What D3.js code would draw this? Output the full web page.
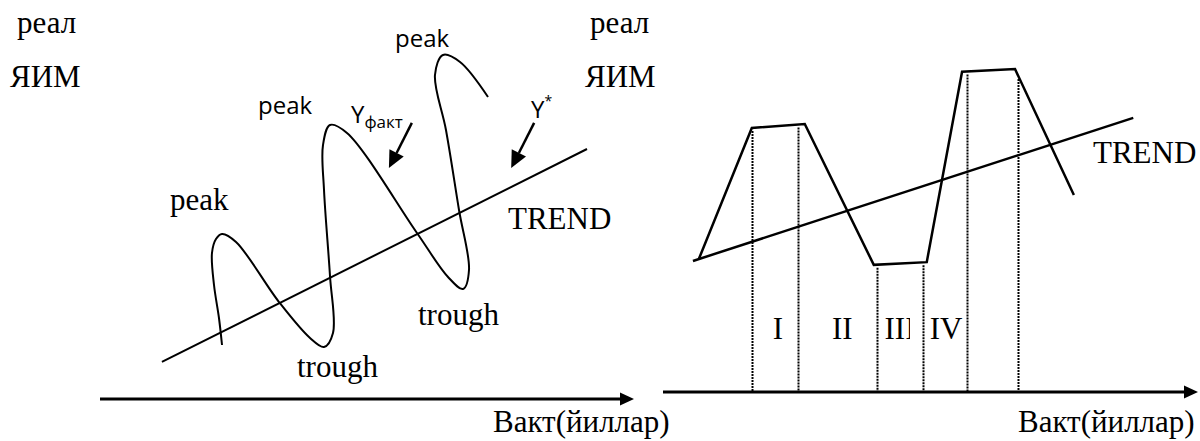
<!DOCTYPE html>
<html>
<head>
<meta charset="utf-8">
<script src="https://cdn.jsdelivr.net/npm/d3@7"></script>
<style>
  body { margin: 0; background: #fff; }
  .serif { font-family: "Liberation Serif", "Times New Roman", serif; font-size: 31px; fill: #000; }
  .sans { font-family: "Open Sans", "Noto Sans", sans-serif; fill: #000; }
</style>
</head>
<body>
<div id="chart"></div>
<script>
  // left panel: business cycle curve (time units, GDP units)
  var cycleT = [2.285, 2.228, 2.135, 2.097, 2.172, 2.285, 2.547, 3.352, 3.933, 4.195, 4.363, 4.307, 4.195, 4.176, 4.307, 4.625, 5.936, 6.517, 6.798, 6.910, 6.723, 6.479, 6.273, 6.423, 6.742, 7.266];
  var cycleY = [1.385, 2.077, 2.923, 3.744, 4.103, 4.231, 4.026, 2.487, 1.564, 1.333, 1.692, 3.154, 5.359, 6.513, 7.026, 6.821, 4.256, 3.128, 2.821, 3.308, 4.846, 6.897, 8.308, 8.821, 8.641, 7.744];
  var trendLeftT = [1.16, 9.12];
  var trendLeftY = [0.95, 6.41];

  // arrows pointing at the actual curve and the trend
  var arrowLabels = ["Yфакт", "Y*"];
  var arrowFromT = [5.84, 8.13], arrowFromY = [7.08, 7.08];
  var arrowToT = [5.41, 7.70], arrowToY = [5.92, 5.92];

  // right panel: phases of the cycle
  var phaseT = [0.67, 1.66, 2.65, 3.94, 4.93, 5.59, 6.58, 7.68];
  var phaseY = [3.41, 6.77, 6.87, 3.26, 3.33, 8.21, 8.28, 5.05];
  var trendRightT = [0.56, 8.79];
  var trendRightY = [3.36, 7.03];
  var dividerT = [1.66, 2.52, 4.00, 4.86, 5.68, 6.64];
  var phaseLabels = ["I", "II", "III", "IV"];
  var phaseLabelT = [2.15, 3.35, 4.43, 5.29];

  var width = 1200, height = 441;

  var svg = d3.select("#chart")
      .append("svg")
      .attr("width", width)
      .attr("height", height);

  var defs = svg.append("defs");
  defs.append("clipPath").attr("id", "clip3")
      .append("rect").attr("x", 870).attr("y", 300).attr("width", 40).attr("height", 60);

  // scales
  var xL = d3.scaleLinear().domain([0, 10]).range([100, 634]);
  var yL = d3.scaleLinear().domain([0, 10]).range([399, 9]);
  var xR = d3.scaleLinear().domain([0, 10]).range([663, 1198]);
  var yR = d3.scaleLinear().domain([0, 10]).range([392, 2]);

  function axisArrow(x, y) {
      var g = svg.append("g");
      var x0 = x.range()[0], x1 = x.range()[1], y0 = y(0);
      g.append("line")
          .attr("x1", x0).attr("x2", x1 - 8)
          .attr("y1", y0).attr("y2", y0)
          .attr("stroke", "#000").attr("stroke-width", 3);
      g.append("path")
          .attr("d", "M" + x1 + "," + y0 + "L" + (x1 - 14) + "," + (y0 - 6.5) + "L" + (x1 - 14) + "," + (y0 + 6.5) + "Z")
          .attr("fill", "#000");
  }

  // ---------- left panel ----------
  var cycleData = cycleT.map(function (t, i) { return [t, cycleY[i]]; });
  svg.append("path")
      .datum(cycleData)
      .attr("fill", "none")
      .attr("stroke", "#000")
      .attr("stroke-width", 2)
      .attr("d", d3.line()
          .x(function (d) { return xL(d[0]); })
          .y(function (d) { return yL(d[1]); })
          .curve(d3.curveCatmullRom.alpha(0.5)));

  svg.append("line")
      .attr("x1", xL(trendLeftT[0])).attr("y1", yL(trendLeftY[0]))
      .attr("x2", xL(trendLeftT[1])).attr("y2", yL(trendLeftY[1]))
      .attr("stroke", "#000").attr("stroke-width", 2);

  axisArrow(xL, yL);

  // annotation arrows
  arrowLabels.forEach(function (lab, i) {
      var ax = xL(arrowFromT[i]), ay = yL(arrowFromY[i]);
      var bx = xL(arrowToT[i]), by = yL(arrowToY[i]);
      var ang = Math.atan2(by - ay, bx - ax);
      var hl = 17, hw = 8;
      var baseX = bx - hl * Math.cos(ang), baseY = by - hl * Math.sin(ang);
      svg.append("line")
          .attr("x1", ax).attr("y1", ay).attr("x2", baseX).attr("y2", baseY)
          .attr("stroke", "#000").attr("stroke-width", 2.5);
      svg.append("path")
          .attr("d", "M" + bx + "," + by +
              "L" + (baseX + hw * Math.sin(ang)) + "," + (baseY - hw * Math.cos(ang)) +
              "L" + (baseX - hw * Math.sin(ang)) + "," + (baseY + hw * Math.cos(ang)) + "Z")
          .attr("fill", "#000");
  });

  // Yфакт label
  var yf = svg.append("text").attr("class", "sans").attr("x", 351).attr("y", 123).style("font-size", "24px");
  yf.append("tspan").text("Y");
  yf.append("tspan").attr("dy", 5).style("font-size", "17px").text("факт");
  // Y* label
  var ys = svg.append("text").attr("class", "sans").attr("x", 531).attr("y", 118).style("font-size", "24px");
  ys.append("tspan").text("Y");
  ys.append("tspan").attr("dy", -12).style("font-size", "14px").text("*");

  svg.append("text").attr("class", "sans").attr("x", 258).attr("y", 114).style("font-size", "24px").text("peak");
  svg.append("text").attr("class", "sans").attr("x", 395).attr("y", 47).style("font-size", "24px").text("peak");
  svg.append("text").attr("class", "serif").attr("x", 170).attr("y", 210).text("peak");
  svg.append("text").attr("class", "serif").attr("x", 297).attr("y", 377).text("trough");
  svg.append("text").attr("class", "serif").attr("x", 418).attr("y", 325).text("trough");
  svg.append("text").attr("class", "serif").attr("x", 508).attr("y", 229).text("TREND");

  svg.append("text").attr("class", "serif").attr("x", 17).attr("y", 33).text("реал");
  svg.append("text").attr("class", "serif").attr("x", 10).attr("y", 87).text("ЯИМ");
  svg.append("text").attr("class", "serif").attr("x", 493).attr("y", 432).text("Вакт(йиллар)");

  // ---------- right panel ----------
  var phaseData = phaseT.map(function (t, i) { return [t, phaseY[i]]; });
  var phaseInterp = d3.scaleLinear().domain(phaseT).range(phaseY);

  svg.append("g")
      .selectAll("line")
      .data(dividerT)
      .enter()
      .append("line")
      .attr("x1", function (d) { return Math.round(xR(d)) + 0.5; })
      .attr("x2", function (d) { return Math.round(xR(d)) + 0.5; })
      .attr("y1", function (d) { return yR(phaseInterp(d)) + 3; })
      .attr("y2", yR(0))
      .attr("stroke", "#000")
      .attr("stroke-width", 2)
      .attr("stroke-dasharray", "2,1");

  svg.append("path")
      .datum(phaseData)
      .attr("fill", "none")
      .attr("stroke", "#000")
      .attr("stroke-width", 2.5)
      .attr("stroke-linejoin", "miter")
      .attr("d", d3.line()
          .x(function (d) { return xR(d[0]); })
          .y(function (d) { return yR(d[1]); }));

  svg.append("line")
      .attr("x1", xR(trendRightT[0])).attr("y1", yR(trendRightY[0]))
      .attr("x2", xR(trendRightT[1])).attr("y2", yR(trendRightY[1]))
      .attr("stroke", "#000").attr("stroke-width", 2.5);

  axisArrow(xR, yR);

  svg.append("g")
      .selectAll("text")
      .data(phaseLabels)
      .enter()
      .append("text")
      .attr("class", "serif")
      .attr("text-anchor", "middle")
      .attr("x", function (d, i) { return xR(phaseLabelT[i]); })
      .attr("y", 339)
      .attr("clip-path", function (d) { return d === "III" ? "url(#clip3)" : null; })
      .text(function (d) { return d; });

  svg.append("text").attr("class", "serif").attr("x", 1093).attr("y", 163).text("TREND");
  svg.append("text").attr("class", "serif").attr("x", 590).attr("y", 33).text("реал");
  svg.append("text").attr("class", "serif").attr("x", 585).attr("y", 87).text("ЯИМ");
  svg.append("text").attr("class", "serif").attr("x", 1018).attr("y", 432).text("Вакт(йиллар)");
</script>
</body>
</html>
